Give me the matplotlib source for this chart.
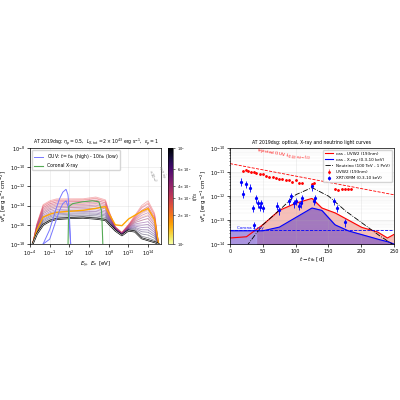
import numpy as np
import matplotlib.pyplot as plt
import matplotlib as mpl

# ---- left panel data (log10 E [eV], log10 flux) ----
base_logE = [-3.6, -3, -2, -1, 0, 2, 4, 6, 7.5, 8, 9, 10, 11, 12, 13, 14, 15, 15.6]
late_curve = [-18, -17, -16.0, -15.6, -15.4, -15.3, -15.25, -15.35, -15.5, -15.9, -16.6, -17.1, -16.6, -16.7, -17.4, -17.6, -17.8, -18]
peak_curve = [-18, -16, -13.9, -13.5, -13.3, -13.3, -13.3, -13.1, -13.4, -14.5, -16.2, -16.8, -16.0, -15.0, -14.0, -13.5, -14.8, -18]
times = [100, 120, 140, 160, 180, 200, 230, 260, 300, 340, 380, 430, 480, 540, 600, 680, 760, 850, 950, 1000]
mix = [0.55, 0.65, 0.75, 0.85, 0.95, 1.0, 0.92, 0.85, 0.78, 0.7, 0.62, 0.55, 0.47, 0.4, 0.33, 0.26, 0.2, 0.13, 0.06, 0.0]
orange_curve = [-18, -16.6, -15.2, -14.9, -14.7, -14.6, -14.5, -14.3, -14.1, -14.8, -16.0, -16.1, -15.4, -15.0, -14.6, -14.3, -15.5, -18]

ouv_logE = [-2, -1, 0, 0.5, 1, 1.5, 1.8, 2.0, 2.2]
ouv_high = [-18, -16.5, -14.3, -13.3, -12.6, -12.3, -12.9, -15, -18]
ouv_low = [-18, -17.5, -15.5, -14.5, -13.8, -13.5, -14.1, -16, -18]
cor_logE = [1.8, 1.9, 2.5, 4, 5.5, 6.5, 6.9, 7.0, 7.1]
cor_flux = [-18, -14.1, -13.8, -13.6, -13.5, -13.6, -14.5, -16, -18]

# ---- right panel data ----
t_model = [0, 25, 50, 75, 100, 125, 140, 160, 180, 200, 225, 240, 250]
uvw2_model = [-13.75, -13.7, -13.2, -12.6, -12.3, -12.1, -12.5, -12.7, -13.0, -13.3, -13.5, -13.75, -13.6]
xray_model = [-13.45, -13.45, -13.45, -13.3, -12.9, -12.5, -12.6, -13.2, -13.45, -13.6, -13.8, -13.9, -14.0]
t_nu = [25, 50, 75, 100, 125, 150, 175, 200, 225, 250]
nu_model = [-14.1, -13.2, -12.6, -11.95, -11.65, -12.0, -12.6, -13.1, -13.6, -14.05]
inj_t = [0, 250]
inj_flux = [-10.65, -11.95]
uvw2_t = [20, 24, 28, 32, 36, 40, 45, 50, 55, 60, 65, 70, 75, 80, 85, 90, 95, 100, 105, 110, 125, 128, 160, 165, 170, 175, 180, 185]
uvw2_f = [-10.95, -10.9, -10.95, -11.0, -11.0, -11.05, -11.1, -11.1, -11.15, -11.2, -11.2, -11.25, -11.3, -11.3, -11.35, -11.35, -11.4, -11.35, -11.45, -11.45, -11.5, -11.45, -11.7, -11.75, -11.7, -11.72, -11.7, -11.7]
xrt_t = [17, 20, 25, 30, 35, 37, 40, 42, 45, 48, 50, 72, 75, 90, 93, 97, 100, 105, 108, 110, 125, 128, 130, 158, 163, 175]
xrt_f = [-11.4, -11.9, -11.5, -11.65, -12.5, -13.2, -12.1, -12.3, -12.45, -12.3, -12.5, -12.4, -12.6, -12.2, -12.0, -12.3, -12.2, -12.4, -12.3, -12.1, -11.6, -12.2, -12.1, -12.2, -12.5, -13.1]
corona_level = -13.4

fig = plt.figure(figsize=(4, 4), dpi=100)
ax1 = fig.add_axes([0.075, 0.39, 0.328, 0.24])
cax = fig.add_axes([0.42, 0.39, 0.013, 0.24])
ax2 = fig.add_axes([0.575, 0.39, 0.41, 0.24])

cmap = plt.get_cmap('magma_r')
norm = mpl.colors.LogNorm(100, 1000)
E = np.logspace(-3.6, 15.6, 300)
for t, m in zip(times, mix):
    y = np.interp(np.log10(E), base_logE, np.array(late_curve) * (1 - m) + np.array(peak_curve) * m)
    ax1.plot(E, 10**y, color=cmap(norm(t) * 0.85 + 0.1), lw=0.6, alpha=0.45)
ax1.plot(E, 10**np.interp(np.log10(E), base_logE, orange_curve), color='orange', lw=1)
ax1.plot(E, 10**np.interp(np.log10(E), base_logE, late_curve), color='black', lw=1.3)
ax1.plot(E, 10**np.interp(np.log10(E), base_logE, late_curve), color='white', lw=0.4)
Eo = np.logspace(-2, 2.2, 100)
ax1.plot(Eo, 10**np.interp(np.log10(Eo), ouv_logE, ouv_high), color='#7777ff', lw=0.7, label=r'OUV: $t=t_{\rm tb}$ (high) - $10t_{\rm tb}$ (low)')
ax1.plot(Eo, 10**np.interp(np.log10(Eo), ouv_logE, ouv_low), color='#7777ff', lw=0.7)
Ec = np.logspace(1.8, 7.1, 100)
ax1.plot(Ec, 10**np.interp(np.log10(Ec), cor_logE, cor_flux), color='#55aa55', lw=0.8, label='Coronal X-ray')
ax1.set_xscale('log'); ax1.set_yscale('log')
ax1.set_xlim(1e-4, 1e16); ax1.set_ylim(1e-18, 1e-8)
ax1.set_xticks([1e-4, 1e-1, 1e2, 1e5, 1e8, 1e11, 1e14])
ax1.set_yticks([1e-18, 1e-16, 1e-14, 1e-12, 1e-10, 1e-8])
ax1.minorticks_off()
ax1.grid(alpha=0.3, lw=0.4)
ax1.tick_params(labelsize=3.5, length=2, width=0.5, pad=1.5)
ax1.set_xlabel(r'$E_\gamma,\ E_\nu$ [eV]', fontsize=4, labelpad=1)
ax1.set_ylabel(r'$\nu F_\nu$ [erg s$^{-1}$ cm$^{-2}$]', fontsize=4, labelpad=0.5)
ax1.set_title(r'AT 2019dsg: $\eta_p=0.5$,  $L_{X,\rm tot}=2\times10^{43}$ erg s$^{-1}$,  $\epsilon_p=1$', fontsize=3.3, pad=3)
ax1.legend(fontsize=3.3, loc='upper left', framealpha=0.8)
ax1.text(4e13, 3e-12, r'$\nu_\mu+\bar\nu_\mu$' + '\n' + r'$\times 10^{-2}$', fontsize=2.8, rotation=-70, color='gray')
for s in ax1.spines.values():
    s.set_linewidth(0.5)

cb = mpl.colorbar.ColorbarBase(cax, cmap=plt.get_cmap('inferno_r'), norm=norm)
cb.set_ticks([100, 200, 300, 400, 600, 1000])
cb.set_ticklabels([r'$10^2$', r'$2\times10^2$', r'$3\times10^2$', r'$4\times10^2$', r'$6\times10^2$', r'$10^3$'])
cb.minorticks_off()
cax.tick_params(labelsize=2.5, length=1.5, width=0.4, pad=1)
cb.set_label(r'$t/t_0$', fontsize=3.5, labelpad=0)
cb.outline.set_linewidth(0.4)

# right panel
tt = np.linspace(0, 250, 300)
uv = 10**np.interp(tt, t_model, uvw2_model)
xr = 10**np.interp(tt, t_model, xray_model)
ax2.fill_between(tt, 1e-14, uv, color='#f4b0a8', alpha=0.8)
ax2.fill_between(tt, 1e-14, xr, color='#9a70c0', alpha=0.9)
ax2.fill_between([0, 40], 1e-14, 10**corona_level, color='#b0b0ff', alpha=0.5)
ax2.plot(tt, uv, color='red', lw=0.8, label='cas - UVW2 (193nm)')
ax2.plot(tt, xr, color='blue', lw=0.8, label='cas - X-ray (0.3-10 keV)')
tn = np.linspace(25, 250, 200)
ax2.plot(tn, 10**np.interp(tn, t_nu, nu_model), color='black', ls='-.', lw=0.6, label='Neutrino (100 TeV - 1 PeV)')
ax2.plot(inj_t, 10**np.array(inj_flux), color='red', ls='--', lw=0.6)
ax2.axhline(10**corona_level, color='blue', ls='--', lw=0.6)
uf = 10**np.array(uvw2_f)
ax2.errorbar(uvw2_t, uf, yerr=0.08 * uf, fmt='o', color='red', ms=1, lw=0.4, label='UVW2 (193nm)')
xf = 10**np.array(xrt_f)
ax2.errorbar(xrt_t, xf, yerr=0.35 * xf, fmt='o', color='blue', ms=1.3, lw=0.6, label='XRT/XMM (0.3-10 keV)')
ax2.text(40, 2.8e-11, r'Injected OUV: $L_{\rm OUV}\propto t^{-5/3}$', color='red', fontsize=3, rotation=-10)
ax2.text(10, 4.3e-14, 'Corona X-ray', color='blue', fontsize=3)
ax2.set_yscale('log')
ax2.set_xlim(0, 250); ax2.set_ylim(1e-14, 1e-10)
ax2.set_xticks([0, 50, 100, 150, 200, 250])
ax2.grid(alpha=0.3, lw=0.4)
ax2.grid(which='minor', axis='y', alpha=0.2, lw=0.3)
ax2.tick_params(labelsize=3.5, length=2, width=0.5, pad=1.5)
ax2.tick_params(which='minor', length=1, width=0.4)
ax2.set_xlabel(r'$t-t_{\rm tb}$ [d]', fontsize=4, labelpad=1)
ax2.set_ylabel(r'$\nu F_\nu$ [erg s$^{-1}$ cm$^{-2}$]', fontsize=4, labelpad=0.5)
ax2.set_title('AT 2019dsg: optical, X-ray and neutrino light curves', fontsize=3.3, pad=3)
ax2.legend(fontsize=3, loc='upper right', framealpha=0.8)
for s in ax2.spines.values():
    s.set_linewidth(0.5)

fig.savefig('out.png', dpi=100)
